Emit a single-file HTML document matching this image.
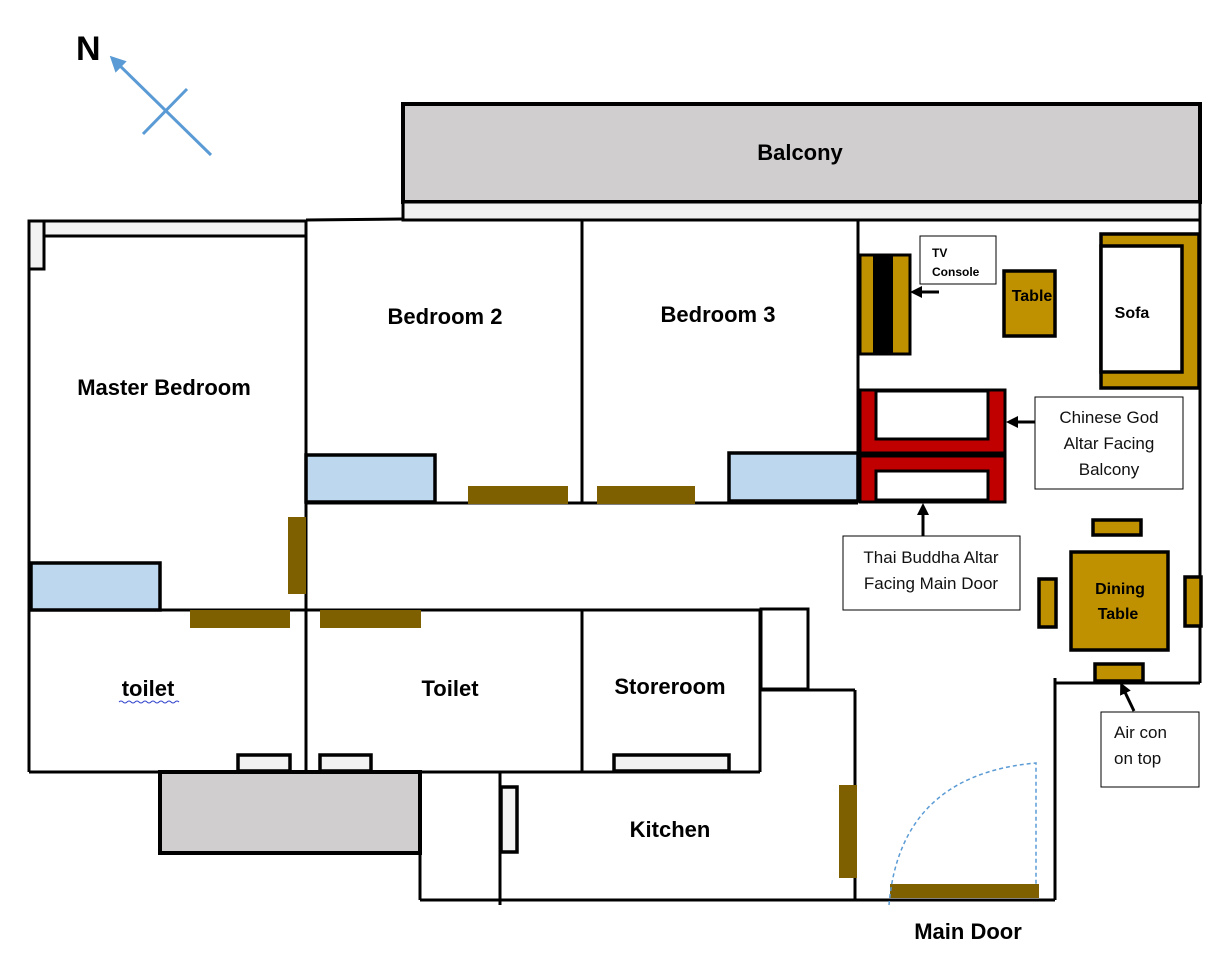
<!DOCTYPE html>
<html><head><meta charset="utf-8"><style>
html,body{margin:0;padding:0;background:#fff;}
svg{display:block;}
.b{font-family:"Liberation Sans",sans-serif;font-weight:bold;fill:#000;}
.c{font-family:"Liberation Sans",sans-serif;fill:#111;font-size:17px;}
</style></head><body>
<svg width="1225" height="960" viewBox="0 0 1225 960" xmlns="http://www.w3.org/2000/svg">
<defs><marker id="ah" markerWidth="12" markerHeight="12" refX="8" refY="6" orient="auto" markerUnits="userSpaceOnUse"><path d="M0,0 L12,6 L0,12 z" fill="#000"/></marker>
<marker id="bh" markerWidth="16" markerHeight="16" refX="10" refY="8" orient="auto" markerUnits="userSpaceOnUse"><path d="M0,0 L16,8 L0,16 z" fill="#5b9bd5"/></marker></defs>
<!-- compass -->
<text x="76" y="60" class="b" font-size="34">N</text>
<line x1="211" y1="155" x2="114" y2="60" stroke="#5b9bd5" stroke-width="3" marker-end="url(#bh)"/>
<line x1="143" y1="134" x2="187" y2="89" stroke="#5b9bd5" stroke-width="3"/>
<!-- balcony -->
<rect x="403" y="104" width="797" height="98" fill="#d0cece" stroke="#000" stroke-width="4"/>
<rect x="403" y="202" width="797" height="18" fill="#f2f2f2" stroke="#000" stroke-width="3"/>
<text x="800" y="160" class="b" font-size="22" text-anchor="middle">Balcony</text>
<!-- master top strip -->
<rect x="29" y="221" width="277" height="15" fill="#f2f2f2" stroke="#000" stroke-width="3"/>
<rect x="29" y="221" width="15" height="48" fill="#f2f2f2" stroke="#000" stroke-width="3"/>
<g stroke="#000" stroke-width="3" fill="none">
<line x1="306" y1="220" x2="403" y2="219"/>
<line x1="29" y1="269" x2="29" y2="772"/>
<line x1="306" y1="220" x2="306" y2="772"/>
<line x1="582" y1="220" x2="582" y2="503"/>
<line x1="582" y1="610" x2="582" y2="772"/>
<line x1="858" y1="220" x2="858" y2="502"/>
<line x1="1200" y1="220" x2="1200" y2="683"/>
<line x1="306" y1="503" x2="858" y2="503"/>
<line x1="29" y1="610" x2="808" y2="610"/>
<line x1="29" y1="772" x2="760" y2="772"/>
<line x1="760" y1="610" x2="760" y2="772"/>
<line x1="760" y1="690" x2="855" y2="690"/>
<line x1="855" y1="690" x2="855" y2="900"/>
<line x1="420" y1="900" x2="1055" y2="900"/>
<line x1="1055" y1="678" x2="1055" y2="900"/>
<line x1="1055" y1="683" x2="1200" y2="683"/>
<line x1="420" y1="772" x2="420" y2="900"/>
<line x1="500" y1="772" x2="500" y2="905"/>
</g>
<rect x="761" y="609" width="47" height="80" fill="#fff" stroke="#000" stroke-width="3"/>
<rect x="160" y="772" width="260" height="81" fill="#d0cece" stroke="#000" stroke-width="4"/>
<!-- windows -->
<g fill="#bdd7ee" stroke="#000" stroke-width="3.5">
<rect x="306" y="455" width="129" height="47"/>
<rect x="729" y="453" width="129" height="48"/>
<rect x="31" y="563" width="129" height="47"/>
</g>
<!-- doors -->
<g fill="#7f6000">
<rect x="468" y="486" width="100" height="18"/>
<rect x="597" y="486" width="98" height="18"/>
<rect x="288" y="517" width="18" height="77"/>
<rect x="190" y="610" width="100" height="18"/>
<rect x="320" y="610" width="101" height="18"/>
<rect x="839" y="785" width="18" height="93"/>
<rect x="890" y="884" width="149" height="14"/>
</g>
<path d="M889,905 Q900,775 1036,763 L1036,884" fill="none" stroke="#5b9bd5" stroke-width="1.5" stroke-dasharray="4,3"/>
<!-- small boxes -->
<g fill="#f2f2f2" stroke="#000" stroke-width="3.5">
<rect x="238" y="755" width="52" height="16"/>
<rect x="320" y="755" width="51" height="16"/>
<rect x="614" y="755" width="115" height="16"/>
<rect x="501" y="787" width="16" height="65"/>
</g>
<!-- furniture -->
<rect x="860" y="255" width="50" height="99" fill="#bf9000" stroke="#000" stroke-width="3"/>
<rect x="873" y="255" width="20" height="99" fill="#000"/>
<rect x="1004" y="271" width="51" height="65" fill="#bf9000" stroke="#000" stroke-width="3.5"/>
<rect x="1101" y="234" width="98" height="154" fill="#bf9000" stroke="#000" stroke-width="3.5"/>
<rect x="1101" y="246" width="81" height="126" fill="#fff" stroke="#000" stroke-width="3.5"/>
<rect x="860" y="390" width="145" height="63" fill="#c00000" stroke="#000" stroke-width="3"/>
<rect x="876" y="391" width="112" height="48" fill="#fff" stroke="#000" stroke-width="3"/>
<rect x="860" y="456" width="145" height="46" fill="#c00000" stroke="#000" stroke-width="3"/>
<rect x="876" y="471" width="112" height="29" fill="#fff" stroke="#000" stroke-width="3"/>
<g fill="#bf9000" stroke="#000" stroke-width="3.5">
<rect x="1071" y="552" width="97" height="98"/>
<rect x="1093" y="520" width="48" height="15"/>
<rect x="1039" y="579" width="17" height="48"/>
<rect x="1185" y="577" width="16" height="49"/>
<rect x="1095" y="664" width="48" height="17"/>
</g>
<!-- labels -->
<g fill="#fff" stroke="#000" stroke-width="1">
<rect x="920" y="236" width="76" height="48"/>
<rect x="1035" y="397" width="148" height="92"/>
<rect x="843" y="536" width="177" height="74"/>
<rect x="1101" y="712" width="98" height="75"/>
</g>
<g stroke="#000" stroke-width="3" fill="none">
<line x1="939" y1="292" x2="914" y2="292" marker-end="url(#ah)"/>
<line x1="1035" y1="422" x2="1010" y2="422" marker-end="url(#ah)"/>
<line x1="923" y1="536" x2="923" y2="507" marker-end="url(#ah)"/>
<line x1="1134" y1="711" x2="1122" y2="686" marker-end="url(#ah)"/>
</g>
<text x="932" y="257" class="b" font-size="12">TV</text>
<text x="932" y="276" class="b" font-size="12">Console</text>
<text x="1109" y="423" class="c" text-anchor="middle">Chinese God</text>
<text x="1109" y="449" class="c" text-anchor="middle">Altar Facing</text>
<text x="1109" y="475" class="c" text-anchor="middle">Balcony</text>
<text x="931" y="563" class="c" text-anchor="middle">Thai Buddha Altar</text>
<text x="931" y="589" class="c" text-anchor="middle">Facing Main Door</text>
<text x="1114" y="738" class="c">Air con</text>
<text x="1114" y="764" class="c">on top</text>
<text x="1032" y="301" class="b" font-size="16" text-anchor="middle">Table</text>
<text x="1132" y="318" class="b" font-size="16" text-anchor="middle">Sofa</text>
<text x="1120" y="594" class="b" font-size="16" text-anchor="middle">Dining</text>
<text x="1118" y="619" class="b" font-size="16" text-anchor="middle">Table</text>
<text x="164" y="395" class="b" font-size="22" text-anchor="middle">Master Bedroom</text>
<text x="445" y="324" class="b" font-size="22" text-anchor="middle">Bedroom 2</text>
<text x="718" y="322" class="b" font-size="22" text-anchor="middle">Bedroom 3</text>
<text x="148" y="696" class="b" font-size="22" text-anchor="middle">toilet</text>
<path d="M119,702 q2,-2 4,0 t4,0 t4,0 t4,0 t4,0 t4,0 t4,0 t4,0 t4,0 t4,0 t4,0 t4,0 t4,0 t4,0 t4,0" fill="none" stroke="#3344cc" stroke-width="1"/>
<text x="450" y="696" class="b" font-size="22" text-anchor="middle">Toilet</text>
<text x="670" y="694" class="b" font-size="22" text-anchor="middle">Storeroom</text>
<text x="670" y="837" class="b" font-size="22" text-anchor="middle">Kitchen</text>
<text x="968" y="939" class="b" font-size="22" text-anchor="middle">Main Door</text>
</svg>
</body></html>
